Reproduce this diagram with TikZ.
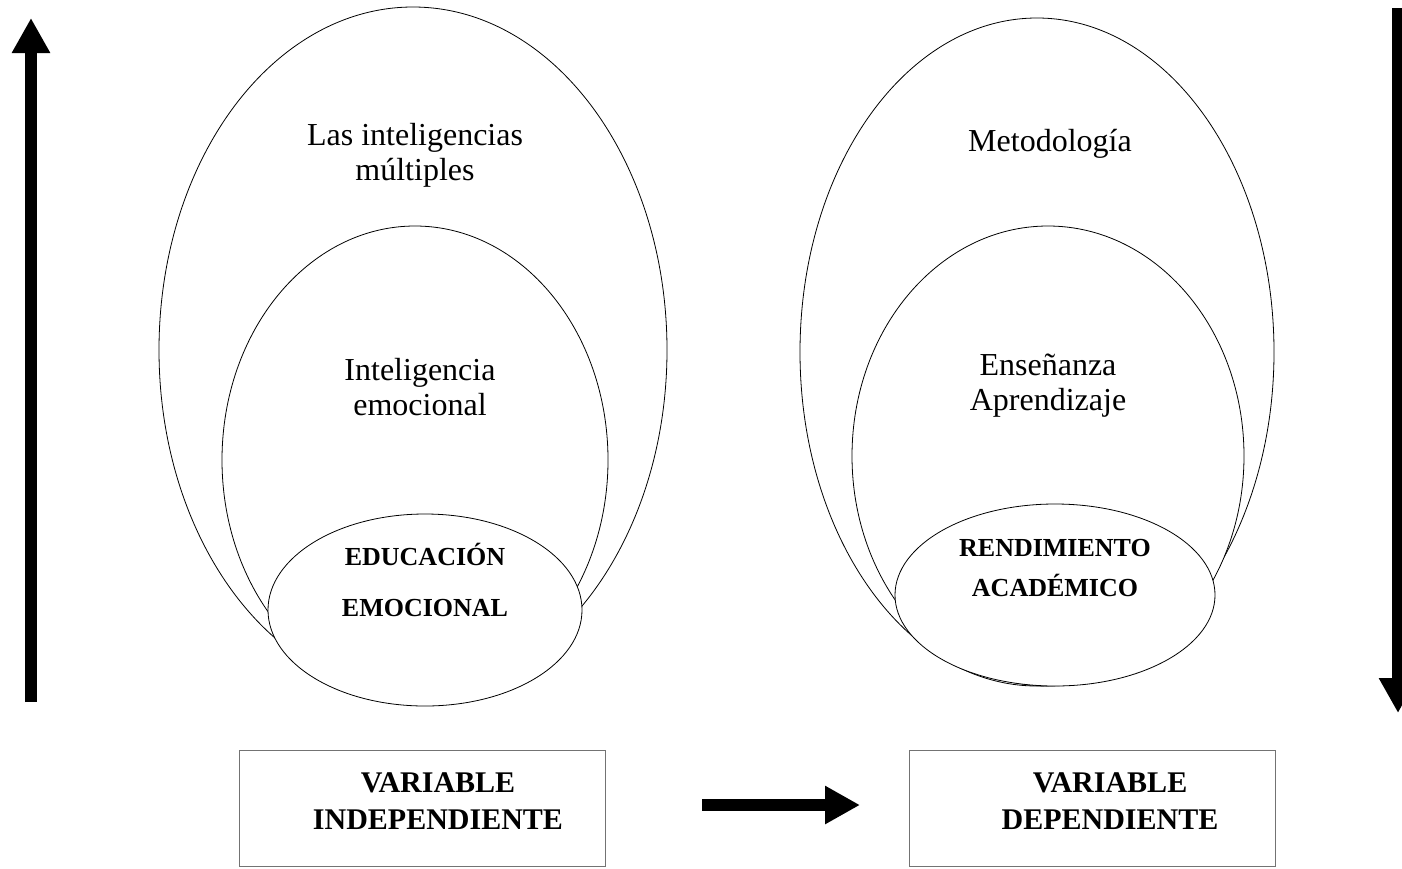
\documentclass[tikz,border=0pt]{standalone}
\usepackage{fontspec}
\setmainfont{Liberation Serif}
\usepackage{tikz}
\usetikzlibrary{arrows.meta, shapes.geometric}
\tikzstyle{ring}=[ellipse, draw=black, fill=white, line width=0.8pt, inner sep=0pt]
\tikzstyle{label}=[align=center, font={\fontsize{32}{35}\selectfont}]
\tikzstyle{core}=[align=center, font={\fontsize{26}{51}\selectfont\bfseries}]
\tikzstyle{varbox}=[rectangle, draw=black!55, line width=1pt, minimum width=366pt, minimum height=116pt]
\tikzstyle{vartext}=[align=center, font={\fontsize{30}{37}\selectfont\bfseries}]
\tikzstyle{bigarrow}=[line width=12pt, -{Triangle[length=35pt, width=36pt]}]

\begin{document}
\begin{tikzpicture}[x=1pt, y=-1pt]
          \useasboundingbox (0,0) rectangle (1402,868);
          % left group
          \node[ring, minimum width=508pt, minimum height=686pt] (lbig) at (413,350) {};
          \node[ring, minimum width=386pt, minimum height=468pt] (lmid) at (415,460) {};
          \node[ring, minimum width=314pt, minimum height=192pt] (lsmall) at (425,610) {};
          \node[label] (ltop) at (415,155) {Las inteligencias\\múltiples};
          \node[label] (lmidtext) at (420,387) {Inteligencia\\emocional};
          \node[core] (lcore) at (425,580) {EDUCACIÓN\\EMOCIONAL};
          % right group
          \node[ring, minimum width=474pt, minimum height=668pt] (rbig) at (1037,352) {};
          \node[ring, minimum width=392pt, minimum height=460pt] (rmid) at (1048,456) {};
          \node[ring, minimum width=320pt, minimum height=182pt] (rsmall) at (1055,595) {};
          \node[label] (rtop) at (1050,144) {Metodología};
          \node[label] (rmidtext) at (1048,386) {Enseñanza\\Aprendizaje};
          \node[core, font={\fontsize{26}{40}\selectfont\bfseries}] (rcore) at (1055,568) {RENDIMIENTO\\ACADÉMICO};
          % variables
          \node[varbox] (indep) at (422,808) {};
          \node[varbox] (dep) at (1092,808) {};
          \node[vartext] (indeptext) at (438,801) {VARIABLE\\INDEPENDIENTE};
          \node[vartext] (deptext) at (1110,801) {VARIABLE\\DEPENDIENTE};
          % arrows
          \coordinate (upfoot) at (31,702);
          \coordinate (uphead) at (31,18);
          \coordinate (downfoot) at (1398,8);
          \coordinate (downhead) at (1398,713);
          \coordinate (midfoot) at (702,805);
          \coordinate (midhead) at (860,805);
          \draw[bigarrow] (upfoot) -- (uphead);
          \draw[bigarrow] (downfoot) -- (downhead);
          \draw[bigarrow] (midfoot) -- (midhead);
\end{tikzpicture}
\end{document}
